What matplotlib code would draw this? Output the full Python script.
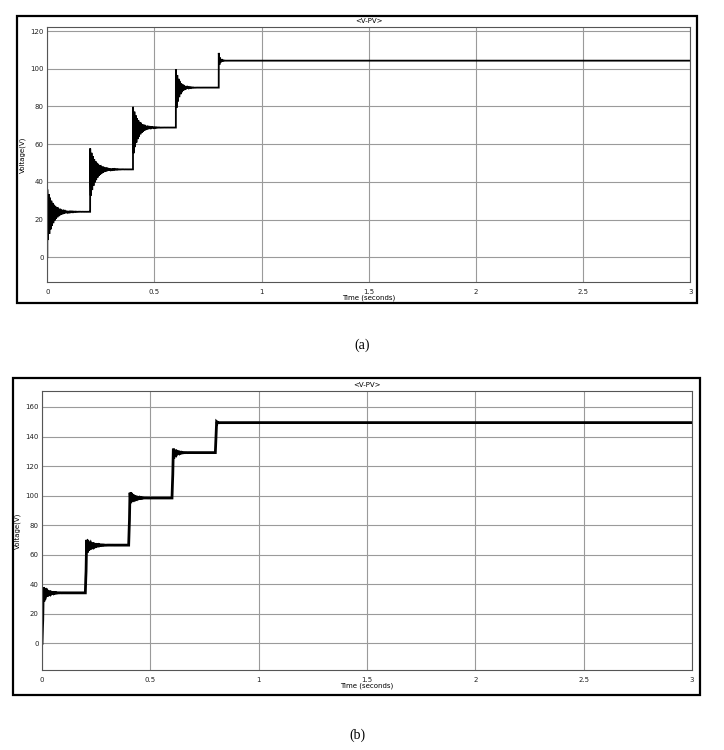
import matplotlib
matplotlib.use("Agg")
import numpy as np
import matplotlib.pyplot as plt
from matplotlib.patches import Rectangle

# step data (seconds / volts)
step_times = [0.0, 0.2, 0.4, 0.6, 0.8]

levels_a = [24.1, 46.6, 68.8, 90.0, 104.3]
peaks_a = [36.0, 57.7, 79.8, 99.7, 108.4]
troughs_a = [7.4, 31.0, 53.3, 77.1, 101.0]
settle_a = [0.08, 0.08, 0.07, 0.05, 0.02]

levels_b = [34.2, 66.5, 98.4, 129.1, 149.4]
peaks_b = [39.4, 71.4, 103.7, 133.4, 151.4]
troughs_b = [26.0, 58.6, 92.4, 122.8, 147.5]
settle_b = [0.05, 0.06, 0.05, 0.04, 0.015]

x_ticks = [0, 0.5, 1, 1.5, 2, 2.5, 3]
x_labels = ["0", "0.5", "1", "1.5", "2", "2.5", "3"]
y_ticks_a = [0, 20, 40, 60, 80, 100, 120]
y_ticks_b = [0, 20, 40, 60, 80, 100, 120, 140, 160]

T_END = 3.0
RING_HZ = 160.0


def build_trace(levels, peaks, troughs, settle, rise):
    """Step response with damped ringing after each step."""
    t = np.arange(0, T_END, 0.0002)
    v = np.zeros_like(t)
    prev = 0.0
    for i, t0 in enumerate(step_times):
        t1 = step_times[i + 1] if i + 1 < len(step_times) else T_END
        m = (t >= t0) & (t < t1)
        dt = t[m] - t0
        tau = settle[i] / 3.0
        ring = np.exp(-dt / tau) * np.cos(2 * np.pi * RING_HZ * dt)
        amp = np.where(ring > 0, peaks[i] - levels[i], levels[i] - troughs[i])
        seg = levels[i] + amp * ring
        if rise > 0:
            ramp = np.clip(dt / rise, 0, 1)
            seg = prev + (seg - prev) * ramp
        v[m] = seg
        prev = levels[i]
    return np.concatenate([[0.0], t]), np.concatenate([[0.0], v])


def draw_panel(fig, rect, box, t, v, ylim, yticks, lw):
    ax = fig.add_axes(rect)
    ax.plot(t, v, color="black", lw=lw, solid_joinstyle="miter")
    ax.set_xlim(0, 3)
    ax.set_ylim(*ylim)
    ax.set_xticks(x_ticks)
    ax.set_xticklabels(x_labels)
    ax.set_yticks(yticks)
    ax.grid(True, color="#9a9a9a", lw=0.8)
    ax.tick_params(length=0, labelsize=5, pad=2.5, colors="#222222")
    ax.tick_params(axis="x", pad=5)
    for s in ax.spines.values():
        s.set_color("#555555")
        s.set_linewidth(0.8)
    ax.set_title("<V-PV>", fontsize=5, pad=3)
    ax.set_xlabel("Time (seconds)", fontsize=5, labelpad=0)
    ax.set_ylabel("Voltage(V)", fontsize=5, labelpad=3)
    # outer frame around the scope window
    x0, y0, x1, y1 = box
    fig.patches.append(Rectangle((x0 / W, 1 - y1 / H), (x1 - x0) / W, (y1 - y0) / H,
                                 transform=fig.transFigure, fill=False,
                                 ec="black", lw=1.6))
    return ax


W, H = 724, 750
fig = plt.figure(figsize=(W / 100, H / 100), dpi=100)

ta, va = build_trace(levels_a, peaks_a, troughs_a, settle_a, rise=0.0)
tb, vb = build_trace(levels_b, peaks_b, troughs_b, settle_b, rise=0.006)

draw_panel(fig, [47.3 / W, 1 - 281.7 / H, 643 / W, 254.4 / H], (17, 16, 697, 303),
           ta, va, (-13, 122), y_ticks_a, 1.3)
draw_panel(fig, [42 / W, 1 - 670 / H, 650 / W, 279.3 / H], (13, 378, 700, 695),
           tb, vb, (-18, 171), y_ticks_b, 2.0)

fig.text(362 / W, 1 - 345 / H, "(a)", ha="center", va="center",
         fontsize=10, family="Liberation Serif")
fig.text(357 / W, 1 - 735 / H, "(b)", ha="center", va="center",
         fontsize=10, family="Liberation Serif")

fig.savefig("out.png", dpi=100, facecolor="white")
